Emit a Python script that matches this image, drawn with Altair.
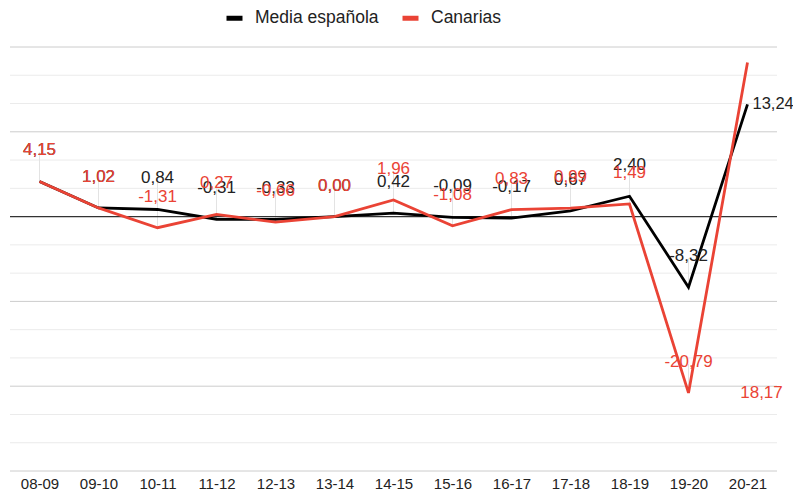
import altair as alt
import pandas as pd

cats = ["08-09", "09-10", "10-11", "11-12", "12-13", "13-14", "14-15",
        "15-16", "16-17", "17-18", "18-19", "19-20", "20-21"]
media = [4.15, 1.02, 0.84, -0.31, -0.33, 0.00, 0.42, -0.09, -0.17, 0.67, 2.40, -8.32, 13.24]
canarias = [4.15, 1.02, -1.31, 0.27, -0.66, 0.00, 1.96, -1.08, 0.83, 0.99, 1.49, -20.79, 18.17]
series = ["Media española", "Canarias"]
colors = ["#000000", "#ea4335"]
label_colors = ["#222222", "#ea4335"]

y_min, y_max = -30, 20
major_grid = [-30, -20, -10, 10, 20]
minor_grid = [-26.667, -23.333, -16.667, -13.333, -6.667, -3.333,
              3.333, 6.667, 13.333, 16.667]

rows = []
for s, vals in zip(series, [media, canarias]):
    for i, (c, v) in enumerate(zip(cats, vals)):
        rows.append({
            "cat": c, "serie": s, "v": v, "top": v + 3.4,
            "label": f"{v:.2f}".replace(".", ","),
            "last": i == len(cats) - 1,
        })
df = pd.DataFrame(rows)

FONT = "Arial, Liberation Sans, sans-serif"

x_enc = alt.X("cat:N", sort=cats, scale=alt.Scale(type="point", padding=0.5),
              axis=alt.Axis(title=None, labelAngle=0, ticks=False, domain=False, grid=False,
                            labelFontSize=15, labelColor="#222222", labelFont=FONT,
                            labelPadding=5))
y_scale = alt.Scale(domain=[y_min, y_max], nice=False, zero=False)


def yq(field):
    return alt.Y(field, scale=y_scale, axis=None)


base = alt.Chart(df)

minor = alt.Chart(pd.DataFrame({"g": minor_grid})).mark_rule(
    color="#ebebeb", strokeWidth=1).encode(y=yq("g:Q"))
major = alt.Chart(pd.DataFrame({"g": major_grid})).mark_rule(
    color="#cccccc", strokeWidth=1).encode(y=yq("g:Q"))

stems = base.transform_filter(alt.datum.last == False).mark_rule(
    color="#e3e3e3", strokeWidth=1).encode(
    x=x_enc, y=yq("v:Q"), y2="top:Q",
)

zero = alt.Chart(pd.DataFrame({"z": [0]})).mark_rule(
    color="#333333", strokeWidth=1.2).encode(y=yq("z:Q"))

lines = base.mark_line(strokeWidth=2.8, strokeJoin="miter").encode(
    x=x_enc,
    y=yq("v:Q"),
    color=alt.Color("serie:N", sort=series,
                    scale=alt.Scale(domain=series, range=colors),
                    legend=alt.Legend(title=None, orient="none", direction="horizontal",
                                      legendX=214, legendY=-39.5, symbolType="stroke",
                                      symbolSize=256, symbolStrokeWidth=5,
                                      labelFont=FONT, labelFontSize=17.5, labelColor="#222222",
                                      labelOffset=10, columnPadding=13, padding=0)),
)


def labels(serie, color):
    return base.transform_filter(
        (alt.datum.serie == serie) & (alt.datum.last == False)
    ).mark_text(font=FONT, fontSize=17, color=color, baseline="alphabetic", dy=-26).encode(
        x=x_enc, y=yq("v:Q"), text="label:N"
    )


lab_media = labels(series[0], label_colors[0])
lab_can = labels(series[1], label_colors[1])

last_media = base.transform_filter(
    (alt.datum.serie == series[0]) & (alt.datum.last == True)
).mark_text(font=FONT, fontSize=16.5, color=label_colors[0], align="left",
            baseline="middle", dx=5).encode(
    x=x_enc, y=yq("v:Q"), text="label:N"
)

last_can = base.transform_filter(
    (alt.datum.serie == series[1]) & (alt.datum.last == True)
).mark_text(font=FONT, fontSize=17, color=label_colors[1], align="center",
            baseline="middle", dx=14).encode(
    x=x_enc, y=alt.datum(min(canarias), scale=y_scale), text="label:N"
)

chart = alt.layer(minor, major, stems, zero, lines, lab_media, lab_can,
                  last_media, last_can).properties(
    width=767, height=424,
    autosize=alt.AutoSizeParams(type="none"),
    padding={"left": 2, "top": 39, "right": 16, "bottom": 20},
).configure_view(stroke=None)

chart.save("out.html", embed_options={"renderer": "svg", "actions": False})
